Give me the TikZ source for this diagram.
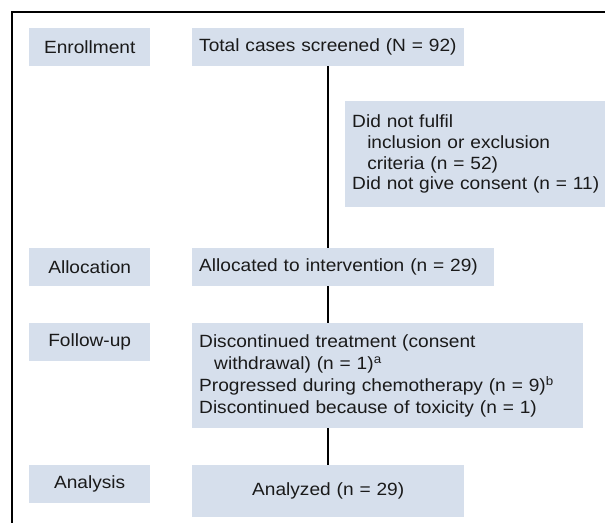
\documentclass[tikz,border=0pt]{standalone}
\usepackage{fontspec}
\setmainfont{Liberation Sans}[FakeStretch=1.08]
\usetikzlibrary{calc}
\definecolor{boxfill}{HTML}{D6DFEC}
\definecolor{inkdark}{HTML}{1A1A1A}
\newcommand{\contline}{\hspace*{0.85em}}

\begin{document}
\begin{tikzpicture}[x=1pt, y=-1pt, text=inkdark,
    font=\fontsize{17.7}{20.7}\selectfont,
    stage/.style={fill=boxfill, anchor=north west, minimum width=121pt,
                  minimum height=38pt, inner sep=0pt},
    flow/.style={fill=boxfill, anchor=north west, align=left,
                 inner xsep=7pt, inner ysep=0pt},
    link/.style={draw=black, line width=2.2pt}]
  \useasboundingbox (0,0) rectangle (605,523);
  \clip (0,0) rectangle (605,523);
  \draw[line width=1.2pt] (605,12) -| (12,523);
  % stage labels on the left
  \node[stage] (enrol)    at (29,28)  {Enrollment};
  \node[stage] (alloclab) at (29,248) {Allocation};
  \node[stage] (followlab) at (29,323) {Follow-up};
  \node[stage] (analyslab) at (29,465) {Analysis};
  % flow boxes
  \node[flow, text width=258pt, minimum height=38pt] (total) at (192,28)
    {Total cases screened (N = 92)};
  \node[flow, text width=252pt, minimum height=106pt] (excl) at (345,101)
    {Did not fulfil\\ \contline inclusion or exclusion\\ \contline criteria (n = 52)\\
     Did not give consent (n = 11)};
  \node[flow, text width=288pt, minimum height=38pt] (alloc) at (192,248)
    {Allocated to intervention (n = 29)};
  \node[flow, text width=377pt, minimum height=105pt,
        font=\fontsize{17.7}{22}\selectfont] (follow) at (192,323)
    {Discontinued treatment (consent\\ \contline withdrawal) (n = 1)\textsuperscript{a}\\
     Progressed during chemotherapy (n = 9)\textsuperscript{b}\\
     Discontinued because of toxicity (n = 1)};
  \node[flow, text width=258pt, minimum height=52pt, align=center] (analyzed) at (192,465)
    {Analyzed (n = 29)};
  % connectors
  \draw[link] (total.south) -- (total.south |- alloc.north);
  \draw[link] (total.south |- alloc.south) -- (total.south |- follow.north);
  \draw[link] (total.south |- follow.south) -- (analyzed.north);
\end{tikzpicture}
\end{document}
